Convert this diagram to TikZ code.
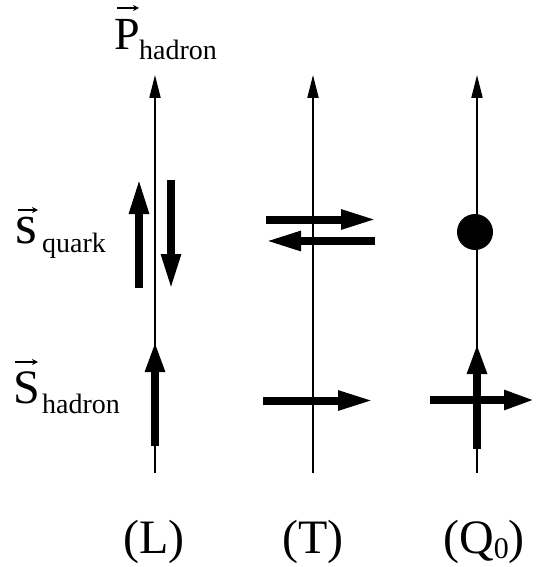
\documentclass[tikz,border=0pt]{standalone}
\usepackage{fontspec}
\setmainfont{Liberation Serif}
\usetikzlibrary{arrows.meta}
\tikzset{
  axis/.style={line width=2pt, -{Triangle[length=23pt,width=11pt]}},
  spin/.style={line width=8pt, -{Triangle[length=36pt,width=18pt]}},
  spinshort/.style={line width=8pt, -{Triangle[length=31pt,width=18pt]}},
  vecmark/.style={line width=1.3pt, -{Stealth[length=6pt,width=6pt]}},
  lbl/.style={inner sep=0pt, anchor=base west},
  big/.style={font=\fontsize{46}{50}\selectfont},
  sub/.style={font=\fontsize{28}{32}\selectfont},
  tag/.style={inner sep=0pt, anchor=base, font=\fontsize{48}{52}\selectfont},
}
\begin{document}
\begin{tikzpicture}[x=1pt,y=-1pt]
\useasboundingbox (0,0) rectangle (537,567);
% axes
\coordinate (Lb) at (155,473); \coordinate (Lt) at (155,75);
\coordinate (Tb) at (313,473); \coordinate (Tt) at (313,75);
\coordinate (Qb) at (477,473); \coordinate (Qt) at (477,75);
\draw[axis] (Lb) -- (Lt);
\draw[axis] (Tb) -- (Tt);
\draw[axis] (Qb) -- (Qt);
% L quark spins
\coordinate (Lu1) at (139,288); \coordinate (Lu2) at (139,178);
\coordinate (Ld1) at (171,180); \coordinate (Ld2) at (171,290);
\draw[spin] (Lu1) -- (Lu2);
\draw[spin] (Ld1) -- (Ld2);
% L hadron spin
\coordinate (Lh1) at (155,446); \coordinate (Lh2) at (155,341);
\draw[spinshort] (Lh1) -- (Lh2);
% T quark spins
\coordinate (Tr1) at (266,219.5); \coordinate (Tr2) at (377,219.5);
\coordinate (Tl1) at (375,241); \coordinate (Tl2) at (265,241);
\draw[spin] (Tr1) -- (Tr2);
\draw[spin] (Tl1) -- (Tl2);
% T hadron spin
\coordinate (Th1) at (263,400.5); \coordinate (Th2) at (374,400.5);
\draw[spin] (Th1) -- (Th2);
% Q quark dot
\fill (475,232) circle (18pt);
% Q hadron spins
\coordinate (Qv1) at (477,449); \coordinate (Qv2) at (477,343);
\coordinate (Qh1) at (430,400); \coordinate (Qh2) at (535,400);
\draw[spinshort] (Qv1) -- (Qv2);
\draw[spinshort] (Qh1) -- (Qh2);
% labels
\node[lbl,big] (P) at (114,50) {P};
\node[lbl,sub] (Ph) at (139,60) {hadron};
\draw[vecmark] (117,8) -- (139,8);
\node[lbl,font=\fontsize{56}{60}\selectfont] (s) at (15,243) {s};
\node[lbl,sub] (sq) at (42,252) {quark};
\draw[vecmark] (18,210) -- (38,210);
\node[lbl,font=\fontsize{48}{52}\selectfont] (S) at (13,403) {S};
\node[lbl,sub] (Sh) at (42,413) {hadron};
\draw[vecmark] (15,362) -- (38,362);
\node[tag] (Lab) at (154,553) {(L)};
\node[tag] (Tab) at (313,553) {(T)};
\node[tag] (Qab) at (484,553) {(Q\raisebox{-5pt}{\fontsize{30}{32}\selectfont 0})};
\end{tikzpicture}
\end{document}
